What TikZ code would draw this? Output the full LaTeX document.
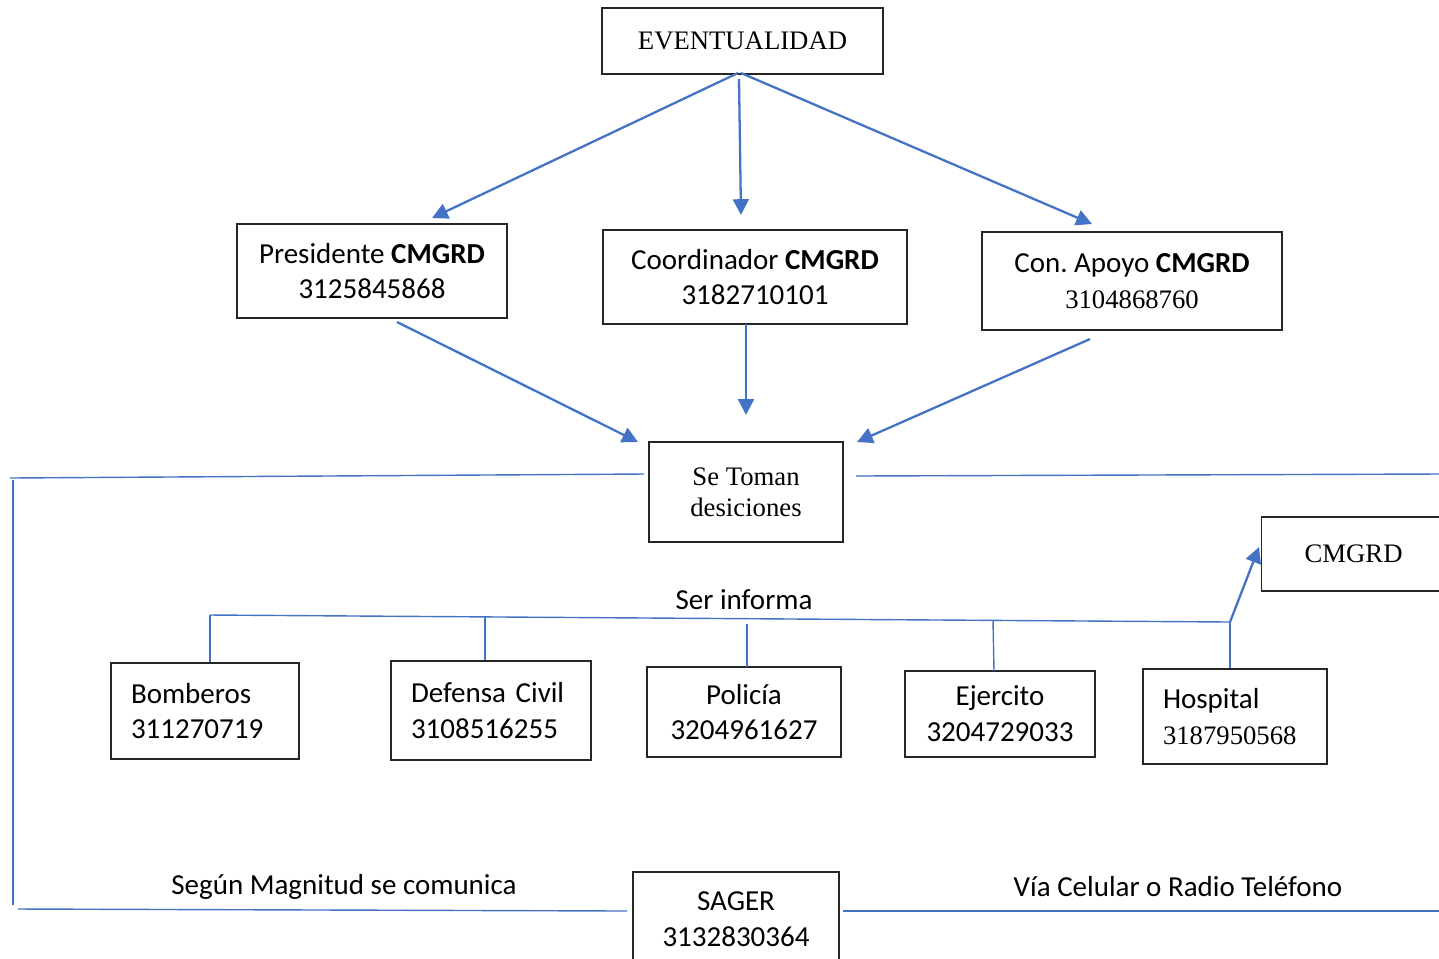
\documentclass[tikz,border=0pt]{standalone}
\usepackage{fontspec}
\setmainfont{Liberation Serif}
\newfontfamily\cf{Carlito}
\usetikzlibrary{arrows.meta}
\newlength\pxu
\setlength\pxu{0.02cm}
\definecolor{lblue}{RGB}{68,114,196}
\newcommand\tnr{\rmfamily\fontsize{15.2}{17.6}\selectfont}
\newcommand\cfs{\cf\fontsize{16.5}{20.4}\selectfont}
\frenchspacing
\tikzset{
  box/.style={draw=black!85, line width=0.7pt, inner sep=0pt, align=center},
  bw/.style={minimum width=#1*\pxu},
  bh/.style={minimum height=#1*\pxu},
  lbox/.style={box, align=left, inner xsep=20*\pxu, text width=#1*\pxu},
  arr/.style={draw=lblue, line width=1.3pt, -{Triangle[length=9pt,width=9pt]}},
  conn/.style={draw=lblue, line width=0.8pt},
  lbl/.style={font=\cfs, inner sep=0pt}
}
\begin{document}
\begin{tikzpicture}[x=0.02cm,y=-0.02cm]
\useasboundingbox (0,0) rectangle (1439,958);
\clip (0,0) rectangle (1439,958);
% boxes
\node[box, bw=281, bh=66, font=\tnr] (ev) at (742.5,41) {EVENTUALIDAD};
\node[box, bw=270, bh=94, font=\cfs] (pres) at (372,271) {Presidente \textbf{CMGRD}\\3125845868};
\node[box, bw=304, bh=94, font=\cfs] (coord) at (755,277) {Coordinador \textbf{CMGRD}\\3182710101};
\node[box, bw=300, bh=98, font=\cfs] (apoyo) at (1132,281) {Con. Apoyo \textbf{CMGRD}\\{\tnr 3104868760}};
\node[box, bw=194, bh=100, font=\tnr] (toman) at (746,492) {Se Toman\\desiciones};
\node[box, anchor=west, bh=74, inner xsep=43*\pxu, font=\tnr] (cm) at (1261,554) {CMGRD};
\node[lbox=148, bh=96, font=\cfs] (bomb) at (205,711) {Bomberos\\311270719};
\node[lbox=160, bh=99, font=\cfs] (def) at (491,710.5) {Defensa Civil\\3108516255};
\node[box, bw=194, bh=90, font=\cfs] (pol) at (744,712) {Policía\\3204961627};
\node[box, bw=190, bh=86, font=\cfs] (ejer) at (1000,714) {Ejercito\\3204729033};
\node[lbox=144, bh=95, font=\cfs] (hosp) at (1235,716.5) {Hospital\\{\tnr 3187950568}};
\node[box, bw=206, bh=95, font=\cfs] (sager) at (736,919.5) {SAGER\\3132830364};
% labels
\node[lbl] (serinf) at (744,600) {Ser informa};
\node[lbl] (segun) at (344,887) {Según Magnitud se comunica};
\node[lbl] (via) at (1178,887) {Vía Celular o Radio Teléfono};
% arrow end coordinates
\coordinate (e1) at (738,73);
\coordinate (e2) at (739,79);
\coordinate (e3) at (741,73);
\coordinate (p1) at (432,218);
\coordinate (c1) at (741,215);
\coordinate (a1) at (1092,224);
\coordinate (p2) at (397,322);
\coordinate (c2) at (746,324);
\coordinate (a2) at (1090,339);
\coordinate (t1) at (638,442);
\coordinate (t2) at (746,415);
\coordinate (t3) at (857,442);
% arrows
\draw[arr] (e1) -- (p1);
\draw[arr] (e2) -- (c1);
\draw[arr] (e3) -- (a1);
\draw[arr] (p2) -- (t1);
\draw[arr] (c2) -- (t2);
\draw[arr] (a2) -- (t3);
% side lines
\coordinate (tl) at (644,474);
\coordinate (ll) at (10,478);
\coordinate (lv) at (13,480);
\coordinate (lb) at (13,905);
\coordinate (tr) at (856,476);
\coordinate (rr) at (1439,474);
\draw[conn] (ll) -- (tl);
\draw[conn] (lv) -- (lb);
\draw[conn] (tr) -- (rr);
% ser informa bus
\coordinate (b0) at (210,615);
\coordinate (b1) at (485,617);
\coordinate (b3) at (993,620);
\coordinate (b4) at (1230,622);
\coordinate (b2t) at (747,624);
\coordinate (b2b) at (747,667);
\coordinate (b3b) at (994,671);
\coordinate (cmin) at (1259,547);
\draw[conn] (b0) -- (b4);
\draw[conn] (b0) -- (bomb.north -| b0);
\draw[conn] (b1) -- (def.north -| b1);
\draw[conn] (b2t) -- (b2b);
\draw[conn] (b3) -- (b3b);
\draw[conn] (b4) -- (hosp.north -| b4);
\draw[arr] (b4) -- (cmin);
% bottom lines
\coordinate (bl) at (18,909);
\coordinate (bm) at (627,911);
\coordinate (bn) at (843,911);
\coordinate (br) at (1439,911);
\draw[conn] (bl) -- (bm);
\draw[conn] (bn) -- (br);
\end{tikzpicture}
\end{document}
